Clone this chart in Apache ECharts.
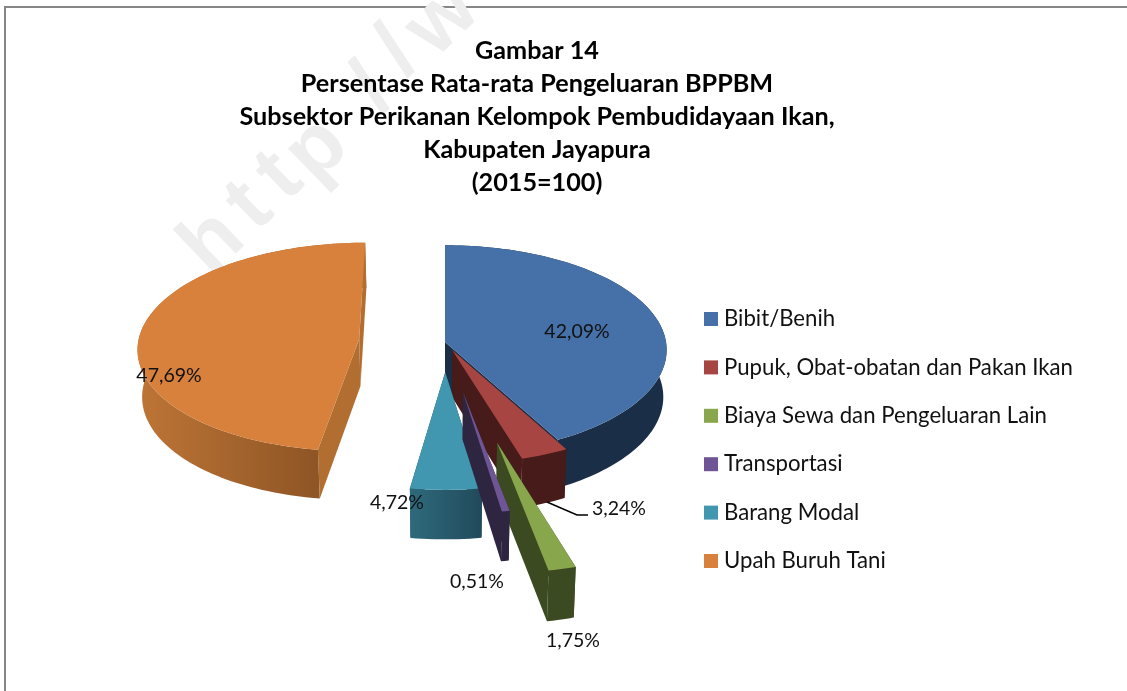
<!DOCTYPE html>
<html><head><meta charset="utf-8">
<style>html,body{margin:0;padding:0;background:#fff}#c{width:1127px;height:691px}</style>
<script src="https://cdn.jsdelivr.net/npm/echarts@6/dist/echarts.min.js"></script>
</head><body><div id="c"></div>
<script>
const categories = ['Bibit/Benih','Pupuk, Obat-obatan dan Pakan Ikan','Biaya Sewa dan Pengeluaran Lain','Transportasi','Barang Modal','Upah Buruh Tani'];
const shares = [42.09,3.24,1.75,0.51,4.72,47.69];
const shareLabels = ['42,09%','3,24%','1,75%','0,51%','4,72%','47,69%'];
const explosion = [0,0.085,0.93,0.47,0.285,0.39];
const titleLines = ['Gambar 14','Persentase Rata-rata Pengeluaran BPPBM','Subsektor Perikanan Kelompok Pembudidayaan Ikan,','Kabupaten Jayapura','(2015=100)'];
const watermarkGlyphs = ['h','t','t','p','/','/','w'];

const topColors = ['#4570A8','#A64542','#88A64C','#6F5596','#4097AF','#D8813C'];
const wallColors = ['#1B2E47','#471B19','#3C4A21','#2E2540','#24525F','#B26E30'];
const arcGrad = {4:['#2E6A7C','#214A5B',1],5:['#BE7536','#8E5525',0.79]};
const paintOrder = [5,0,1,4,2,3];
const labelPos = [[577,332],[619,509],[573,641],[477,582],[397,503],[169,376]];
const watermarkPos = [[213,243],[250,207],[280,177],[317,150],[373,90],[398,53],[443,20]];

const G = {cx:445, cy:342, R:221, Rt:104, p:0.075, h:47, bottomX:0.985};
function project(U,V){
  const f = 1/(1+G.p*V);
  return {x:G.cx+G.R*U*f, y:G.cy-G.Rt*V*f, f};
}
function sliceGeom(i){
  let before=0; for(let k=0;k<i;k++) before+=shares[k];
  const a0=before*3.6*Math.PI/180, a1=(before+shares[i])*3.6*Math.PI/180, m=(a0+a1)/2;
  const e=explosion[i], ou=e*Math.sin(m), ov=e*Math.cos(m);
  const n=Math.max(2,Math.ceil((a1-a0)/(Math.PI/120)));
  const arc=[];
  for(let k=0;k<=n;k++){const a=a0+(a1-a0)*k/n; arc.push([ou+Math.sin(a),ov+Math.cos(a)]);}
  return {apex:[ou,ov],arc};
}
const topPt=q=>{const s=project(q[0],q[1]);return [s.x,s.y];};
const botPt=q=>{const s=project(q[0],q[1]);return [G.cx+(s.x-G.cx)*G.bottomX,s.y+G.h*Math.sqrt(s.f)];};
function wall(seq){return seq.map(topPt).concat(seq.slice().reverse().map(botPt));}

function renderSlice(i){
  return function(){
    const g=sliceGeom(i), kids=[];
    let arcFill=wallColors[i];
    if(arcGrad[i]){
      const stops=[{offset:0,color:arcGrad[i][0]},{offset:arcGrad[i][2],color:arcGrad[i][1]}];
      if(arcGrad[i][2]<1){stops.push({offset:arcGrad[i][2]+0.01,color:wallColors[i]},{offset:1,color:wallColors[i]});}
      arcFill={type:'linear',x:0,y:0,x2:1,y2:0,colorStops:stops};
    }
    const walls=[
      {pts:wall([g.apex,g.arc[0]]),d:(g.apex[1]+g.arc[0][1])/2,fill:wallColors[i]},
      {pts:wall([g.apex,g.arc[g.arc.length-1]]),d:(g.apex[1]+g.arc[g.arc.length-1][1])/2,fill:wallColors[i]},
      {pts:wall(g.arc),d:-9,fill:arcFill}
    ];
    walls.sort((a,b)=>b.d-a.d);
    walls.forEach(w=>kids.push({type:'polygon',shape:{points:w.pts},style:{fill:w.fill}}));
    kids.push({type:'polygon',shape:{points:[g.apex].concat(g.arc).map(topPt)},style:{fill:topColors[i]}});
    return {type:'group',children:kids};
  };
}
function renderLabels(){
  const kids=[{type:'polyline',shape:{points:[[547,502],[577,515],[588,515]]},style:{stroke:'#000',lineWidth:1.5,fill:null}}];
  shareLabels.forEach((t,i)=>kids.push({type:'text',x:labelPos[i][0],y:labelPos[i][1],
    style:{text:t,fill:'#111',font:'19.5px Lato',align:'center',verticalAlign:'middle'}}));
  return {type:'group',children:kids};
}
const series=paintOrder.map(i=>({type:'custom',name:categories[i],coordinateSystem:'none',silent:true,
  itemStyle:{color:topColors[i]},data:[shares[i]],renderItem:renderSlice(i)}));
series.push({type:'custom',name:'labels',coordinateSystem:'none',silent:true,data:[0],renderItem:renderLabels,z:5});

const chart=echarts.init(document.getElementById('c'),null,{renderer:'canvas'});
chart.setOption({
  animation:false,backgroundColor:'#fff',
  title:{text:titleLines.join('\n'),left:532,top:29,textAlign:'center',
    textStyle:{fontFamily:'Lato',fontWeight:'bold',fontSize:25.2,lineHeight:33,color:'#000'}},
  legend:{data:categories,orient:'vertical',left:699,top:303,icon:'rect',itemWidth:14,itemHeight:14,itemGap:26.4,selectedMode:false,
    textStyle:{fontFamily:'Lato',fontSize:22.2,color:'#111',lineHeight:20,padding:[0,0,0,1]}},
  graphic:[
    {type:'rect',z:-10,shape:{x:5,y:7,width:1140,height:700},style:{fill:'#fff',stroke:'#868686',lineWidth:2}}
  ].concat(watermarkGlyphs.map((c,i)=>({type:'text',z:-9,x:watermarkPos[i][0],y:watermarkPos[i][1],rotation:44*Math.PI/180,
    style:{text:c,fill:'#eeeeee',font:'bold 84px "Liberation Sans"',align:'center',verticalAlign:'middle'}}))),
  series
});
</script></body></html>
